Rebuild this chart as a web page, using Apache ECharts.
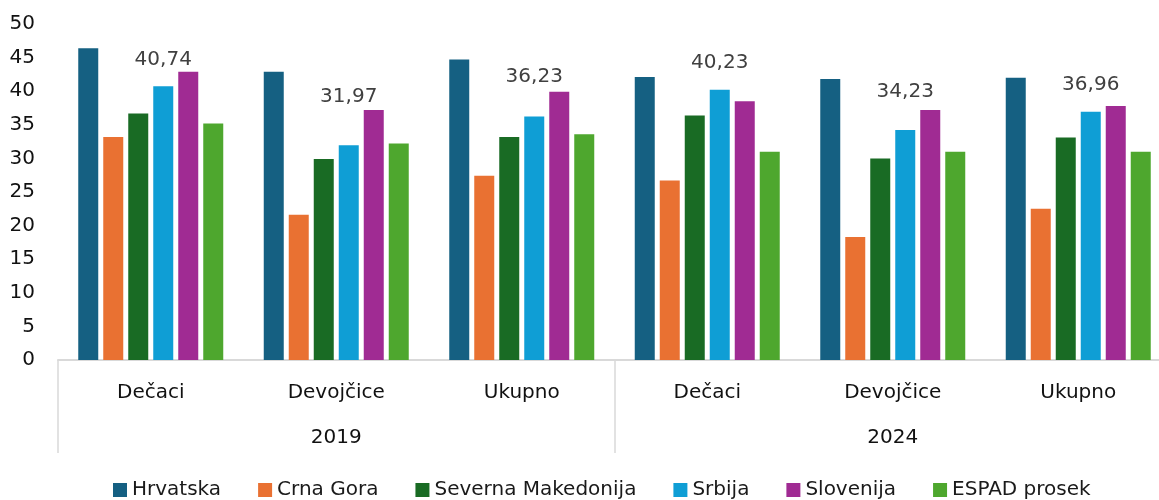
<!DOCTYPE html>
<html>
<head>
<meta charset="utf-8">
<title>ESPAD 2019 / 2024</title>
<script src="https://cdn.jsdelivr.net/npm/echarts@6/dist/echarts.min.js"></script>
<style>
  html, body { margin: 0; padding: 0; background: #fff; overflow: hidden; width: 1159px; height: 500px; }
  /* the plot runs a little past the right edge, so the canvas is wider than the window */
  #chart { width: 1180px; height: 500px; }
</style>
</head>
<body>
<div id="chart"></div>
<script>
// Groups on the outer axis and categories within each group
const years = ['2019', '2024'];
const groups = ['Dečaci', 'Devojčice', 'Ukupno', 'Dečaci', 'Devojčice', 'Ukupno'];

// Series values, one per category (2019: Dečaci, Devojčice, Ukupno; 2024: same)
const hrvatska   = [46.4, 42.9, 44.7, 42.1, 41.8, 42.0];
const crnaGora   = [33.2, 21.6, 27.4, 26.7, 18.3, 22.5];
const sevMak     = [36.7, 29.9, 33.2, 36.4, 30.0, 33.1];
const srbija     = [40.74, 31.97, 36.23, 40.23, 34.23, 36.96];
const slovenija  = [42.9, 37.2, 39.9, 38.5, 37.2, 37.8];
const espad      = [35.2, 32.2, 33.6, 31.0, 31.0, 31.0];

const seriesNames = ['Hrvatska', 'Crna Gora', 'Severna Makedonija', 'Srbija', 'Slovenija', 'ESPAD prosek'];
const seriesData  = [hrvatska, crnaGora, sevMak, srbija, slovenija, espad];
const colors = ['#156082', '#E97132', '#196B24', '#0F9ED5', '#A02B93', '#4EA72E'];

// Extra lift (px) of each Srbija value label above its bar
const labelLift = [16, 38, 30, 17, 28, 17];

const FONT = '"DejaVu Sans"';
const FS = 20;
const fmt = v => v.toFixed(2).replace('.', ',');

const series = seriesData.map((vals, i) => {
  const s = {
    name: seriesNames[i],
    type: 'bar',
    xAxisIndex: 0,
    barWidth: 20,
    barGap: '25%',
    itemStyle: { color: colors[i] },
    data: vals.slice()
  };
  if (seriesNames[i] === 'Srbija') {
    s.data = vals.map((v, k) => ({
      value: v,
      label: {
        show: true,
        position: 'top',
        distance: 0,
        offset: [0, -labelLift[k]],
        formatter: () => fmt(v),
        fontFamily: FONT,
        fontSize: FS,
        color: '#404040'
      }
    }));
  }
  return s;
});

const chart = echarts.init(document.getElementById('chart'), null, { renderer: 'canvas' });
chart.setOption({
  animation: false,
  textStyle: { fontFamily: FONT },
  color: colors,
  grid: { left: 58, top: 24, width: 1113, height: 336, containLabel: false },
  legend: {
    left: 108,
    top: 475,
    itemWidth: 14,
    itemHeight: 14,
    itemGap: 37,
    icon: 'rect',
    textStyle: { fontFamily: FONT, fontSize: FS, color: '#1a1a1a' },
    data: seriesNames
  },
  xAxis: [
    {
      type: 'category',
      data: groups,
      position: 'bottom',
      axisLine: { show: true, lineStyle: { color: '#d9d9d9', width: 2 } },
      axisTick: { show: false },
      axisLabel: { margin: 23, fontFamily: FONT, fontSize: FS, color: '#111' }
    },
    {
      type: 'category',
      data: years,
      position: 'bottom',
      axisLine: { show: false },
      axisTick: { show: true, length: 93, lineStyle: { color: '#d9d9d9', width: 1.5 } },
      axisLabel: { margin: 68, fontFamily: FONT, fontSize: FS, color: '#111' },
      splitLine: { show: false }
    }
  ],
  yAxis: {
    type: 'value',
    min: 0,
    max: 50,
    interval: 5,
    axisLine: { show: false },
    axisTick: { show: false },
    splitLine: { show: false },
    axisLabel: { margin: 23, fontFamily: FONT, fontSize: FS, color: '#111' }
  },
  series: series
});
</script>
</body>
</html>
